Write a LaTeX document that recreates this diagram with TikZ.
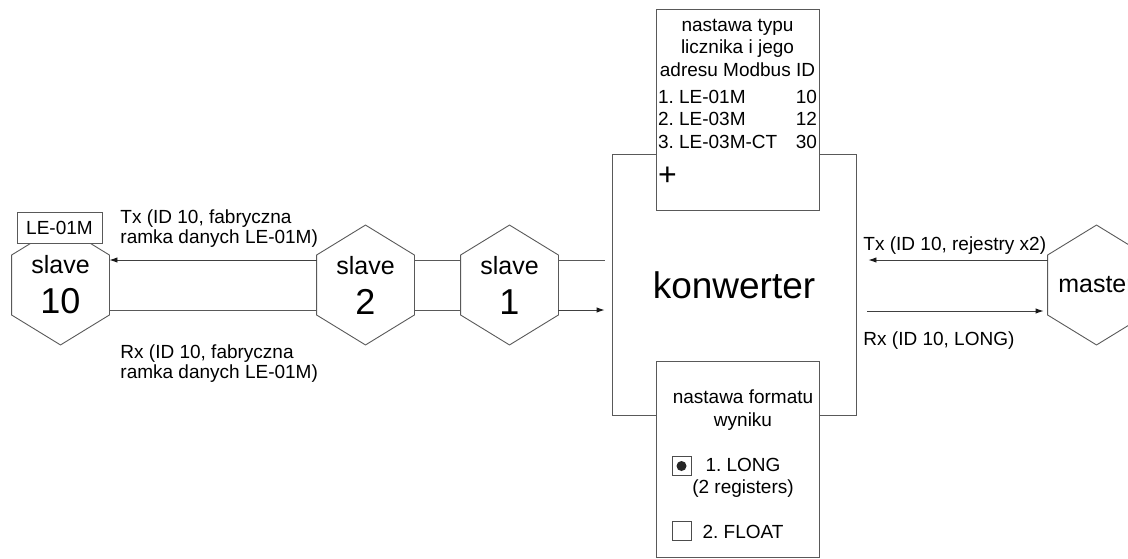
\documentclass[tikz,border=0pt]{standalone}
\usepackage{fontspec}
\setmainfont{Liberation Sans}
\usetikzlibrary{arrows.meta}
\frenchspacing

\newcommand{\slavetext}[1]{slave\\{\fontsize{36}{40}\selectfont #1}}

\begin{document}
\begin{tikzpicture}[
        x=1pt, y=-1pt,
        line width=0.9pt,
        hexa/.style={minimum width=97pt, minimum height=59pt, inner sep=0pt, align=center, font=\fontsize{25}{40}\selectfont},
        panel/.style={draw=black!65, fill=white, inner sep=0pt},
        lbl/.style={align=left, inner sep=0pt, font=\fontsize{19}{20}\selectfont},
        chk/.style={draw=black!70, fill=white, minimum size=19pt, inner sep=0pt},
        wire/.style={draw=black!65},
        flow/.style={draw=black!75, -{Latex[length=8pt,width=5.5pt,color=black!90]}}]

        \useasboundingbox (0,0) rectangle (1128,558);

        % NODES
        % converter and its two panels
        \node[draw=black!65, minimum width=244pt, minimum height=261pt, inner sep=0pt, font=\fontsize{37}{40}\selectfont] (konw) at (734,285) {konwerter};

        \node[panel, anchor=north, inner xsep=2pt, inner ysep=6pt, font=\fontsize{19}{22.5}\selectfont] (typbox) at (737.5,9) {%
            \begin{tabular*}{159pt}{@{}l@{\extracolsep{\fill}}r@{}}
            \multicolumn{2}{@{}c@{}}{nastawa typu}\\
            \multicolumn{2}{@{}c@{}}{licznika i jego}\\
            \multicolumn{2}{@{}c@{}}{adresu Modbus ID}\\[4.5pt]
            1. LE-01M & 10\\
            2. LE-03M & 12\\
            3. LE-03M-CT & 30\\[12pt]
            \multicolumn{2}{@{}l@{}}{\fontsize{32}{30}\selectfont +}\\[12pt]
            \end{tabular*}};

        \node[panel, anchor=north, minimum width=163pt, minimum height=196pt] (fmtbox) at (737.5,361) {};
        \node[align=center, inner sep=0pt, font=\fontsize{19}{22.5}\selectfont] (fmttxt) at ([xshift=5.5pt,yshift=-5pt]fmtbox.center) {nastawa formatu\\wyniku\\[22.5pt]1. LONG\\(2 registers)\\[22.5pt]2. FLOAT};
        \node[chk] (cb1) at (681.5,466) {};
        \node[chk] (cb2) at (681.5,531) {};
        \fill[black!85] (cb1.center) circle (5pt);

        % devices
        \node[hexa] (slave10) at (60.5,285) {\slavetext{10}};
        \node[hexa] (slave2) at (365.5,285) {\slavetext{2}};
        \node[hexa] (slave1) at (509.5,285) {\slavetext{1}};
        \node[hexa] (master) at (1096.5,285) {master};

        \foreach \n in {slave10,slave2,slave1,master}
            \draw[wire] (\n.north west) -- ([yshift=30pt]\n.north) -- (\n.north east) -- (\n.south east) -- ([yshift=-30pt]\n.south) -- (\n.south west) -- cycle;

        \node[panel, minimum width=85pt, minimum height=31pt, font=\fontsize{19}{20}\selectfont] (model) at (59.5,227.5) {LE-01M};

        % labels
        \node[lbl, anchor=west] (txleft) at (120,228.5) {Tx (ID 10, fabryczna\\ramka danych LE-01M)};
        \node[lbl, anchor=west] (rxleft) at (120,363.5) {Rx (ID 10, fabryczna\\ramka danych LE-01M)};
        \node[lbl, anchor=west] (txright) at (863,246) {Tx (ID 10, rejestry x2)};
        \node[lbl, anchor=west] (rxright) at (863,340.5) {Rx (ID 10, LONG)};

        % ARROWS
        \draw[flow] ([yshift=25pt]slave2.west) -- ([yshift=25pt]slave10.east);
        \draw[wire] ([yshift=-25pt]slave10.east) -- ([yshift=-25pt]slave2.west);
        \draw[wire] ([yshift=25pt]slave2.east) -- ([yshift=25pt]slave1.west);
        \draw[wire] ([yshift=-25pt]slave2.east) -- ([yshift=-25pt]slave1.west);
        \draw[wire] ([yshift=25pt]slave1.east) -- ([xshift=-7pt,yshift=25pt]konw.west);
        \draw[flow] ([yshift=-25pt]slave1.east) -- ([xshift=-7pt,yshift=-25pt]konw.west);
        \draw[flow] ([yshift=25pt]master.west) -- ([xshift=12pt,yshift=25pt]konw.east);
        \draw[flow] ([xshift=11pt,yshift=-26pt]konw.east) -- ([xshift=-4pt,yshift=-26pt]master.west);
\end{tikzpicture}
\end{document}
